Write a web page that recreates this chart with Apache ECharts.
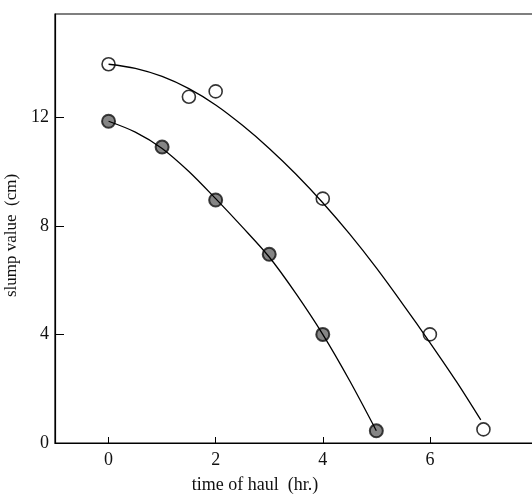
<!DOCTYPE html>
<html lang="en">

<head>
    <meta charset="UTF-8">
    <title>slump value</title>
    <script src="https://cdnjs.cloudflare.com/ajax/libs/echarts/6.0.0/echarts.min.js"></script>
    <style>
        body { margin: 0; background: #fff; }
        #main { width: 532px; height: 496px; }
    </style>
</head>

<body>
    <div id="main"></div>
    <script>
        // open circles
        const openX = [0, 1.5, 2, 4, 6, 7];
        const openY = [13.95, 12.75, 12.95, 9.0, 4.0, 0.5];
        // filled circles
        const filledX = [0, 1, 2, 3, 4, 5];
        const filledY = [11.85, 10.9, 8.95, 6.95, 4.0, 0.45];
        // fitted curves
        const openCurveX = [0, 0.5, 1, 1.5, 2, 2.5, 3, 3.5, 4, 4.5, 5, 5.5, 6, 6.5, 6.95];
        const openCurveY = [13.95, 13.8, 13.5, 13.05, 12.45, 11.7, 10.85, 9.9, 8.85, 7.7, 6.45, 5.1, 3.7, 2.25, 0.85];
        const filledCurveX = [0, 0.5, 1, 1.5, 2, 2.5, 3, 3.5, 4, 4.5, 5];
        const filledCurveY = [11.85, 11.45, 10.85, 10.0, 9.0, 7.95, 6.85, 5.5, 4.0, 2.3, 0.45];

        const xTicks = [0, 2, 4, 6];
        const yTicks = [0, 4, 8, 12];

        const pairs = (xs, ys) => xs.map((x, i) => [x, ys[i]]);
        const font = 'Liberation Serif';

        const chart = echarts.init(document.getElementById('main'));

        const option = {
            animation: false,
            grid: {
                left: 55, top: 14, bottom: 53, width: 482,
                outerBoundsMode: 'none',
                show: true, borderColor: '#000', borderWidth: 1.2
            },
            xAxis: {
                type: 'value', min: -1, max: 8, interval: 1,
                name: 'time of haul  (hr.)', nameLocation: 'middle', nameGap: 33,
                nameTextStyle: { fontFamily: font, fontSize: 18, color: '#111', padding: [0, 82, 0, 0] },
                axisLine: { onZero: false, lineStyle: { color: '#000', width: 1.2 } },
                axisTick: {
                    inside: true, length: 6, lineStyle: { color: '#000' },
                    customValues: xTicks
                },
                axisLabel: {
                    fontFamily: font, fontSize: 18, color: '#111', margin: 8,
                    customValues: xTicks
                },
                splitLine: { show: false }
            },
            yAxis: {
                type: 'value', min: 0, max: 15.8, interval: 4,
                name: 'slump value  (cm)', nameLocation: 'middle', nameGap: 33,
                nameTextStyle: { fontFamily: font, fontSize: 17, color: '#111', padding: [0, 14, 0, 0] },
                axisLine: { show: true, onZero: false, lineStyle: { color: '#000', width: 1.2 } },
                axisTick: {
                    show: true, inside: true, length: 9, lineStyle: { color: '#000' },
                    customValues: yTicks
                },
                axisLabel: {
                    fontFamily: font, fontSize: 18, color: '#111', margin: 6,
                    customValues: yTicks
                },
                splitLine: { show: false }
            },
            series: [
                {
                    type: 'line', data: pairs(openCurveX, openCurveY), smooth: 0.3,
                    showSymbol: false, lineStyle: { color: '#000', width: 1.3 }
                },
                {
                    type: 'line', data: pairs(filledCurveX, filledCurveY), smooth: 0.3,
                    showSymbol: false, lineStyle: { color: '#000', width: 1.3 }
                },
                {
                    type: 'scatter', data: pairs(openX, openY), symbolSize: 13,
                    itemStyle: { color: '#fff', borderColor: '#000', borderWidth: 1.6 }
                },
                {
                    type: 'scatter', data: pairs(filledX, filledY), symbolSize: 13,
                    itemStyle: { color: '#666', borderColor: '#111', borderWidth: 2 }
                }
            ]
        };

        chart.setOption(option);
    </script>
</body>

</html>
